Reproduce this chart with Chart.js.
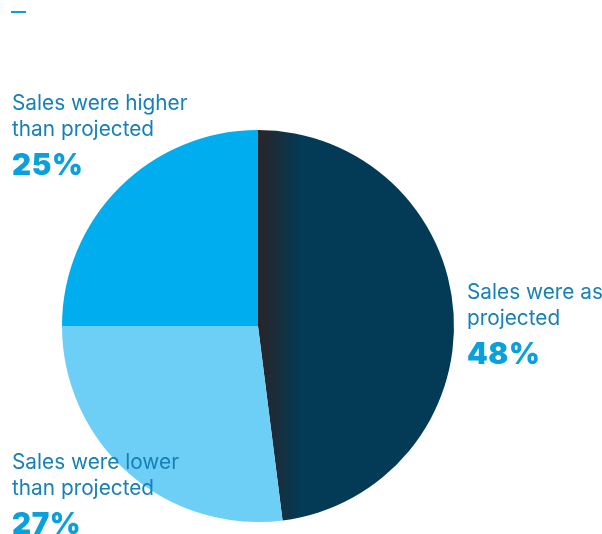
<!DOCTYPE html>
<html>
<head>
<meta charset="utf-8">
<script src="https://cdn.jsdelivr.net/npm/chart.js@4"></script>
<style>
  html, body { margin: 0; padding: 0; background: #fff; }
  #wrap { position: relative; width: 602px; height: 534px; overflow: hidden; }
  #dash { position: absolute; left: 11px; top: 11px; width: 15px; height: 2px; background: #0aa0dc; }
  .lbl { position: absolute; font-family: Inter, "Noto Sans", sans-serif; color: #1780b6; font-size: 20.8px; line-height: 26px; white-space: nowrap; }
  .pct { display: block; margin-top: 6px; font-weight: 900; font-size: 29.5px; line-height: 32px; color: #0aa0dc; letter-spacing: 0.6px; }
</style>
</head>
<body>
<div id="wrap">
  <canvas id="pie" width="602" height="534"></canvas>
  <div id="dash"></div>
  <div class="lbl" id="lbl-0" style="left:467px; top:279px;"></div>
  <div class="lbl" id="lbl-1" style="left:12px; top:449px;"></div>
  <div class="lbl" id="lbl-2" style="left:12px; top:90px;"></div>
</div>
<script>
  const categories = [
    ['Sales were as', 'projected'],
    ['Sales were lower', 'than projected'],
    ['Sales were higher', 'than projected']
  ];
  const shares = [48, 27, 25];
  const colors = ['#033a55', '#6dcff6', '#00aeef'];

  // labels beside each slice
  categories.forEach((lines, i) => {
    const el = document.getElementById('lbl-' + i);
    el.innerHTML = lines.join('<br>') + `<span class="pct">${shares[i]}%</span>`;
  });

  function sliceColor(context) {
    const i = context.dataIndex;
    if (i !== 0) return colors[i];
    const area = context.chart.chartArea;
    if (!area) return colors[0];
    const cx = (area.left + area.right) / 2;
    // darker shading along the left edge of the big slice
    const g = context.chart.ctx.createLinearGradient(cx, 0, cx + 42, 0);
    g.addColorStop(0, '#2a2426');
    g.addColorStop(1, colors[0]);
    return g;
  }

  new Chart(document.getElementById('pie'), {
    type: 'pie',
    data: {
      labels: categories.map(l => l.join(' ')),
      datasets: [{
        data: shares,
        backgroundColor: sliceColor,
        borderWidth: 0
      }]
    },
    options: {
      responsive: false,
      animation: false,
      layout: { padding: { left: 62, right: 148, top: 130, bottom: 12 } },
      plugins: {
        legend: { display: false },
        tooltip: { enabled: false }
      }
    }
  });
</script>
</body>
</html>
